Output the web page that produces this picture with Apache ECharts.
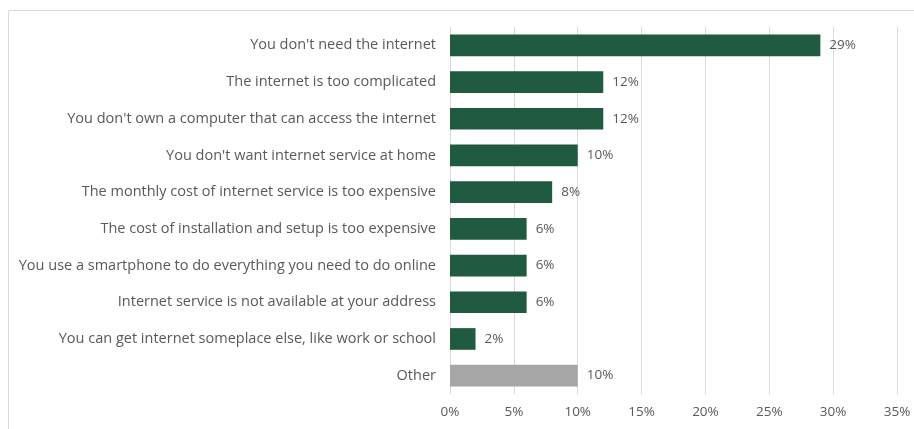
<!DOCTYPE html>
<html>
<head>
<meta charset="utf-8">
<script src="https://cdn.jsdelivr.net/npm/echarts@6/dist/echarts.min.js"></script>
<style>
  html, body { margin: 0; padding: 0; background: #ffffff; }
  #chart { width: 914px; height: 429px; }
</style>
</head>
<body>
<div id="chart"></div>
<script>
// Reasons for not having internet at home, share of respondents (%)
const categories = [
  "You don't need the internet",
  "The internet is too complicated",
  "You don't own a computer that can access the internet",
  "You don't want internet service at home",
  "The monthly cost of internet service is too expensive",
  "The cost of installation and setup is too expensive",
  "You use a smartphone to do everything you need to do online",
  "Internet service is not available at your address",
  "You can get internet someplace else, like work or school",
  "Other"
];
const values = [29, 12, 12, 10, 8, 6, 6, 6, 2, 10];
const barColors = ["#1f5a41", "#1f5a41", "#1f5a41", "#1f5a41", "#1f5a41",
                   "#1f5a41", "#1f5a41", "#1f5a41", "#1f5a41", "#a6a6a6"];
const axisMin = 0;
const axisMax = 35;
const axisStep = 5;

const FONT = "'Open Sans', 'Noto Sans', sans-serif";
const chart = echarts.init(document.getElementById('chart'), null, { renderer: 'canvas' });

chart.setOption({
  animation: false,
  graphic: [{
    type: 'rect',
    shape: { x: 8.5, y: 10.5, width: 920, height: 430 },
    style: { fill: 'none', stroke: '#d9d9d9', lineWidth: 1 },
    silent: true
  }],
  grid: { left: 450, right: 17, top: 27, bottom: 35, containLabel: false },
  xAxis: {
    type: 'value',
    min: axisMin,
    max: axisMax,
    interval: axisStep,
    axisLine: { show: false },
    axisTick: { show: false },
    splitLine: { show: true, lineStyle: { color: '#d9d9d9', width: 1 } },
    axisLabel: {
      formatter: v => v + '%',
      color: '#595959',
      fontFamily: FONT,
      fontSize: 13.5,
      margin: 11
    }
  },
  yAxis: {
    type: 'category',
    data: categories,
    inverse: true,
    axisLine: { show: false },
    axisTick: { show: false },
    splitLine: { show: false },
    axisLabel: {
      color: '#595959',
      fontFamily: FONT,
      fontSize: 14.5,
      margin: 14
    }
  },
  series: [{
    type: 'bar',
    data: values.map((v, i) => ({ value: v, itemStyle: { color: barColors[i] } })),
    barCategoryGap: '41%',
    label: {
      show: true,
      position: 'right',
      distance: 9,
      formatter: p => p.value + '%',
      color: '#595959',
      fontFamily: FONT,
      fontSize: 13.5
    }
  }]
});
</script>
</body>
</html>
